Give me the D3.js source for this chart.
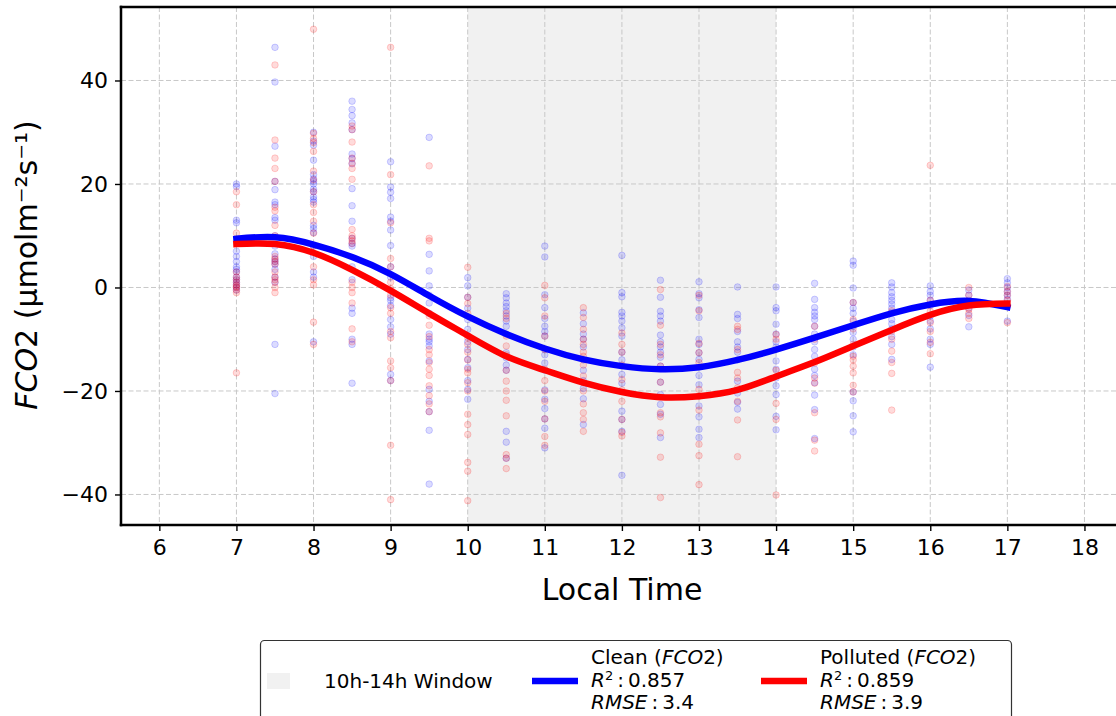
<!DOCTYPE html>
<html lang="en">
  <head>
    <meta charset="utf-8" />
    <title>FCO2 Clean vs Polluted</title>
    <script src="https://cdn.jsdelivr.net/npm/d3@7"></script>
    <style>
      body { margin: 0; background: #fff; }
      svg { display: block; font-family: "DejaVu Sans", sans-serif; }
    </style>
  </head>
  <body>
    <svg id="chart" width="1116" height="716"></svg>
    <script>
      // observation hours (one column of points per half hour)
      var hours = [7, 7.5, 8, 8.5, 9, 9.5, 10, 10.5, 11, 11.5, 12, 12.5, 13, 13.5, 14, 14.5, 15, 15.5, 16, 16.5, 17];

      // clean days, FCO2 per hour column
      var cleanVals = [
        [20, 19.5, 13, 12.5, 7, 6, 5, 4, 3.5, 3, 2, 1.5, 1, 0.5, 0, -0.5],
        [46.4, 39.7, 27.3, 20.5, 18.9, 16.5, 16, 13.5, 13, 10, 8, 6.5, 5.5, 5, 4.5, 3.5, 2, 1, -11, -20.5],
        [30, 28.3, 27.5, 24.6, 21.8, 21, 20.5, 20, 19, 18.5, 17.5, 17, 16.5, 12, 11.4, 10.6, 8, 6, 3, 2, -10.5],
        [36, 34.4, 33.2, 31.8, 30.5, 25.8, 24.9, 23.9, 19.1, 15.8, 12.8, 9.5, 8.5, 8, 4, 1.5, -4, -5, -10, -11, -18.5],
        [24.3, 19.4, 18.4, 17.2, 13.6, 12.8, 11.1, 8.1, 4, 2, -2, -2.5, -3.5, -6.2, -7.6, -9, -16.8, -18],
        [29, 6.4, 3.2, 0.3, -1.5, -3, -5, -9, -10, -10.5, -11.3, -14.2, -19.7, -22, -24, -27.6, -38],
        [1.9, 0.3, -1.9, -4, -6.2, -8.1, -10.5, -12, -13.9, -15.5, -18, -19.7, -21.6],
        [-1.2, -2, -3, -3.7, -4.5, -5.5, -6.5, -7.5, -9, -12.6, -13.6, -15, -16, -27.8, -29.9, -33],
        [8, 5.9, -1.4, -3.9, -6, -7.5, -8.5, -9.4, -12, -13, -14.6, -16, -19.8, -21.6, -23.4, -25.4, -27.2, -31],
        [-4.9, -7, -9, -10, -11.5, -14, -16, -18, -19.5, -21.5, -26.5],
        [6.2, -1, -1.8, -4.8, -5.5, -6.5, -7.8, -9.4, -12.5, -14, -16.8, -18.5, -23.9, -25.5, -27.8, -36.3],
        [1.4, -1.9, -4.6, -5.5, -6.5, -9.2, -10.5, -11.5, -12.5, -13.5, -15.2, -18.3, -20.7, -22.6, -24.5, -29],
        [1.1, -1.2, -2, -4.3, -5.8, -10, -11, -12.6, -13.9, -17, -18.8, -22.9, -25, -27.4, -29],
        [0.1, -5.2, -6, -8.5, -10.5, -11.5, -12.5, -14, -18.1, -20.4, -22.2, -23.5],
        [0.1, -3.9, -4.5, -7.1, -9, -10.5, -11.5, -14.2, -15.8, -17.5, -19, -20.7, -24.9, -27.5],
        [0.8, -2.3, -3.9, -4.8, -5.5, -6.2, -7.5, -9, -10.5, -12, -13.3, -15.8, -17, -18.4, -20.8, -23.6, -29.2],
        [5.1, 4.3, -0.1, -2.9, -4, -5, -6.5, -7.5, -8.7, -10, -11.5, -13, -20.2, -21.9, -24.8, -27.9],
        [0.9, 0.1, -1, -1.8, -2.5, -3.2, -4, -4.8, -6.2, -7, -8, -9.5, -11, -13.9],
        [0.3, -0.8, -1.5, -2.5, -3.5, -5.5, -6.5, -8, -10, -11, -15.4],
        [-0.5, -1.5, -2.5, -3.2, -4, -5.4, -7.6],
        [1.7, 0.9, 0, -0.8, -1.5, -2.3, -6.5]
      ];

      // polluted days, FCO2 per hour column
      var pollutedVals = [
        [18.5, 16, 10.5, 9, 3, 2, 1.5, 1, 0.5, 0.2, 0, -0.5, -1, -16.5],
        [43, 28.5, 25, 23, 20.5, 15.5, 14.8, 12, 10, 6, 5.5, 5, 4.5, 3, 2, 1.5, 1, 0, -1],
        [49.9, 29.8, 28.8, 28, 26.3, 22.5, 20.8, 18.5, 16, 14.5, 12.8, 10.5, 8, 4, 1.5, 0.5, -6.7, -11],
        [31.2, 30.5, 28.1, 25, 24, 23, 20.9, 11.2, 10, 9.5, 9, 8.5, 1, 0, -1, -3, -8, -10.5],
        [46.4, 21.8, 12.5, 5.6, 4, 1, -0.2, -1.5, -3.9, -5, -8.5, -9.7, -14.2, -15.5, -18, -30.5, -41],
        [23.5, 9.5, 9, -5.5, -7.3, -9.5, -12, -13, -14.5, -15.8, -17, -19, -20.9, -22.5, -24],
        [3.9, -1.9, -3.1, -5, -9.7, -11, -12.5, -14, -15.8, -16.5, -18.4, -20, -24.5, -26.5, -28.4, -33.8, -35.5, -41.2],
        [-5, -6, -9.4, -11.3, -13, -16, -18.1, -20, -21.8, -24.8, -32.3, -33, -35],
        [0.4, -2, -5.5, -9.4, -12, -15.8, -18, -20, -22, -25.4, -28.8, -30.5],
        [-3.9, -5.8, -8.1, -10, -11, -12.5, -13.3, -15, -17.1, -18.4, -20, -22.5, -24.2, -25.5, -27.8],
        [-8.8, -11, -12.5, -15, -17.8, -19.8, -22, -25.5, -28, -28.7],
        [-0.4, -7.3, -11, -13, -15.2, -18.3, -24.2, -25, -28.1, -32.8, -40.6],
        [-1.5, -4.5, -10.8, -12.6, -14.5, -19.7, -21, -23.7, -30.3, -32.5, -38.1],
        [-7.5, -8.1, -12, -16.4, -17.5, -19.4, -22, -25.6, -32.7],
        [-9.1, -10, -16, -22.4, -25.5, -40.1],
        [-7.5, -10, -14.6, -17.5, -18.5, -24.2, -29.5, -31.6],
        [-2.9, -6.2, -8, -11, -13.3, -14, -15.2, -16.5, -18.9, -20.2],
        [-4.5, -8.5, -10, -12.3, -14.5, -16.6, -23.7],
        [23.6, -2.5, -4.6, -6.8, -8.5, -10.6, -12.8],
        [0, -1.5, -3, -4.2, -5, -6],
        [0.2, -0.8, -1.5, -2.5, -3.5, -6.8]
      ];

      // fitted curves, read at every half hour
      var fitHours = hours;
      var cleanFit = [9.4, 9.7, 8.3, 5.9, 2.6, -1.6, -5.6, -9.0, -11.8, -13.9, -15.2, -15.8, -15.4, -14.0, -12.0, -9.7, -7.3, -5.0, -3.3, -2.6, -3.8];
      var pollutedFit = [8.4, 8.4, 6.7, 3.4, -0.6, -5.0, -9.3, -13.3, -16.0, -18.4, -20.2, -21.2, -21.0, -19.8, -17.2, -14.4, -11.3, -8.2, -5.3, -3.5, -3.1];

      var xTicks = [6, 7, 8, 9, 10, 11, 12, 13, 14, 15, 16, 17, 18];
      var yTicks = [-40, -20, 0, 20, 40];
      var windowSpan = [10, 14];

      var W = 1116;
      var plotLeft = 121, plotTop = 7, plotBottom = 525;

      var svg = d3.select("#chart");

      var x = d3.scaleLinear().domain([5.5, 18.5]).range([120.8, 1123]);
      var y = d3.scaleLinear().domain([-45.9, 54.2]).range([plotBottom, plotTop]);

      svg.append("defs").append("clipPath").attr("id", "plotclip")
        .append("rect").attr("x", plotLeft).attr("y", plotTop)
        .attr("width", W - plotLeft).attr("height", plotBottom - plotTop);

      var plot = svg.append("g").attr("clip-path", "url(#plotclip)");

      // 10h-14h window
      plot.append("rect")
        .attr("x", x(windowSpan[0]))
        .attr("y", plotTop)
        .attr("width", x(windowSpan[1]) - x(windowSpan[0]))
        .attr("height", plotBottom - plotTop)
        .style("fill", "#d3d3d3")
        .style("fill-opacity", 0.33);

      // grid
      plot.selectAll(".vgrid").data(xTicks).enter().append("line")
        .attr("x1", function (d) { return x(d); })
        .attr("x2", function (d) { return x(d); })
        .attr("y1", plotTop).attr("y2", plotBottom)
        .style("stroke", "#c8c8c8").style("stroke-width", 1)
        .style("stroke-dasharray", "5,2.5");
      plot.selectAll(".hgrid").data(yTicks).enter().append("line")
        .attr("y1", function (d) { return y(d); })
        .attr("y2", function (d) { return y(d); })
        .attr("x1", plotLeft).attr("x2", W)
        .style("stroke", "#c8c8c8").style("stroke-width", 1)
        .style("stroke-dasharray", "5,2.5");

      // scatter
      function flatten(vals) {
        var out = [];
        vals.forEach(function (col, i) {
          col.forEach(function (v) { out.push([hours[i], v]); });
        });
        return out;
      }

      function drawPoints(vals, color) {
        plot.append("g").selectAll("circle").data(flatten(vals)).enter().append("circle")
          .attr("cx", function (d) { return x(d[0]); })
          .attr("cy", function (d) { return y(d[1]); })
          .attr("r", 3.3)
          .style("fill", color).style("fill-opacity", 0.14)
          .style("stroke", color).style("stroke-opacity", 0.17)
          .style("stroke-width", 1);
      }
      drawPoints(cleanVals, "#0000ff");
      drawPoints(pollutedVals, "#ff0000");

      // fit lines
      var line = d3.line()
        .x(function (d) { return x(d[0]); })
        .y(function (d) { return y(d[1]); })
        .curve(d3.curveNatural);

      plot.append("path")
        .datum(fitHours.map(function (h, i) { return [h, cleanFit[i]]; }))
        .attr("d", line)
        .style("fill", "none").style("stroke", "#0000ff")
        .style("stroke-width", 6.5).style("stroke-linecap", "square");
      plot.append("path")
        .datum(fitHours.map(function (h, i) { return [h, pollutedFit[i]]; }))
        .attr("d", line)
        .style("fill", "none").style("stroke", "#ff0000")
        .style("stroke-width", 6.5).style("stroke-linecap", "square");

      // axes
      var xAxis = d3.axisBottom(x).tickValues(xTicks).tickSize(6).tickPadding(8)
        .tickFormat(function (d) { return d; });
      var gx = svg.append("g").attr("transform", "translate(0," + plotBottom + ")").call(xAxis);
      gx.select(".domain").remove();
      gx.selectAll("line").style("stroke", "#000").style("stroke-width", 1.4);
      gx.selectAll("text").style("font-size", "22px").style("font-family", "DejaVu Sans").style("fill", "#000");

      var yAxis = d3.axisLeft(y).tickValues(yTicks).tickSize(6).tickPadding(7)
        .tickFormat(function (d) { return d < 0 ? "\u2212" + Math.abs(d) : d; });
      var gy = svg.append("g").attr("transform", "translate(" + plotLeft + ",0)").call(yAxis);
      gy.select(".domain").remove();
      gy.selectAll("line").style("stroke", "#000").style("stroke-width", 1.4);
      gy.selectAll("text").style("font-size", "22px").style("font-family", "DejaVu Sans").style("fill", "#000");

      // spines
      var spineColor = "#000", spineWidth = 2.5;
      [[plotLeft, plotTop, plotLeft, plotBottom], [plotLeft, plotTop, W, plotTop], [plotLeft, plotBottom, W, plotBottom]]
        .forEach(function (s) {
          svg.append("line").attr("x1", s[0]).attr("y1", s[1]).attr("x2", s[2]).attr("y2", s[3])
            .style("stroke", spineColor).style("stroke-width", spineWidth).style("stroke-linecap", "square");
        });

      // axis labels
      svg.append("text")
        .attr("x", 622).attr("y", 600)
        .style("text-anchor", "middle").style("font-size", "30px")
        .text("Local Time");

      var ylab = svg.append("text")
        .attr("transform", "translate(37,265) rotate(-90)")
        .style("text-anchor", "middle").style("font-size", "30px");
      ylab.append("tspan").style("font-style", "italic").text("FCO");
      ylab.append("tspan").text("2 (\u03bcmolm\u207b\u00b2s\u207b\u00b9)");

      // legend
      var lg = svg.append("g");
      lg.append("rect")
        .attr("x", 260.5).attr("y", 640.5).attr("width", 751).attr("height", 100)
        .attr("rx", 4)
        .style("fill", "#fff").style("stroke", "#333").style("stroke-width", 1.2);

      lg.append("rect").attr("x", 267).attr("y", 673).attr("width", 23).attr("height", 16)
        .style("fill", "#d3d3d3").style("fill-opacity", 0.33);
      lg.append("text").attr("x", 324).attr("y", 688).style("font-size", "20px").text("10h-14h Window");

      function entry(x0, color, name, r2, rmse) {
        lg.append("line").attr("x1", x0).attr("x2", x0 + 46).attr("y1", 681).attr("y2", 681)
          .style("stroke", color).style("stroke-width", 6.5);
        var tx = x0 + 59;
        var t1 = lg.append("text").attr("x", tx).attr("y", 664).style("font-size", "20px");
        t1.append("tspan").text(name + " (");
        t1.append("tspan").style("font-style", "italic").text("FCO");
        t1.append("tspan").text("2)");
        var t2 = lg.append("text").attr("x", tx).attr("y", 687).style("font-size", "20px");
        t2.append("tspan").style("font-style", "italic").text("R");
        t2.append("tspan").attr("dy", -7).style("font-size", "13px").text("2");
        t2.append("tspan").attr("dy", 7).text("\u2009:\u20090." + r2);
        var t3 = lg.append("text").attr("x", tx).attr("y", 709).style("font-size", "20px");
        t3.append("tspan").style("font-style", "italic").text("RMSE");
        t3.append("tspan").text("\u2009:\u2009" + rmse);
      }
      entry(532, "#0000ff", "Clean", "857", "3.4");
      entry(761, "#ff0000", "Polluted", "859", "3.9");
    </script>
  </body>
</html>
